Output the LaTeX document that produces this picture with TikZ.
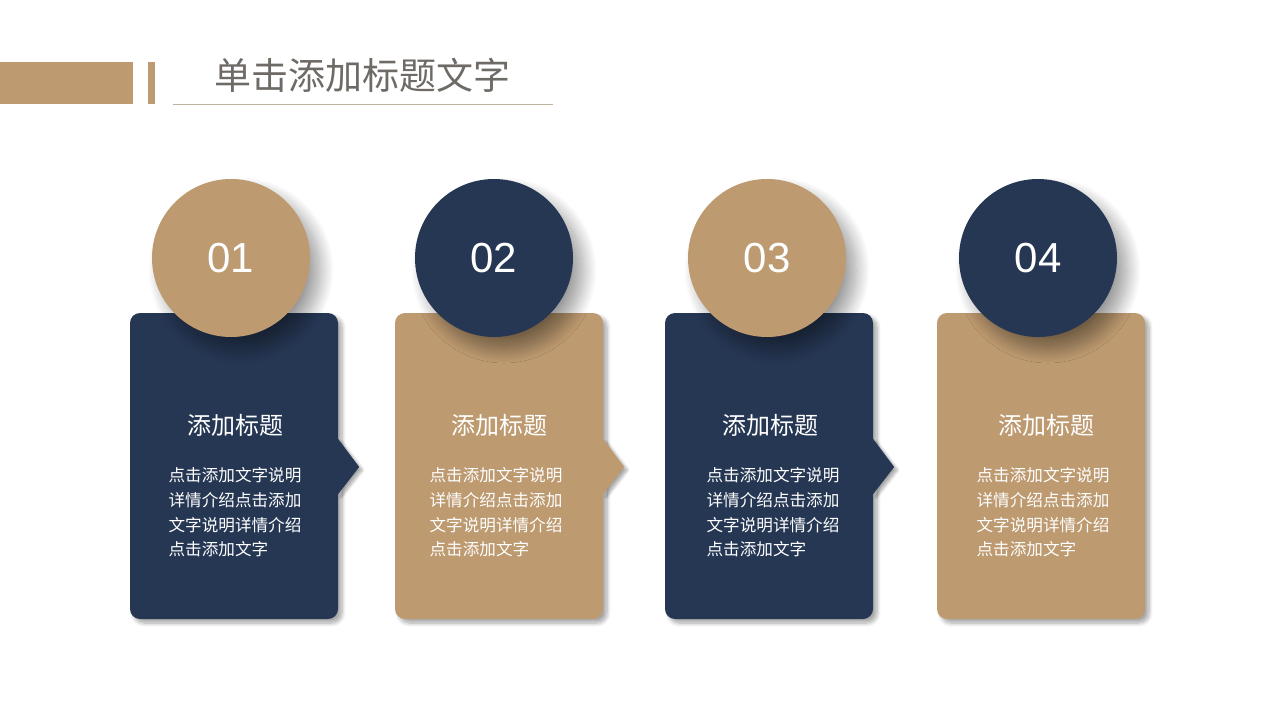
\documentclass[tikz,border=0pt]{standalone}
\usepackage{fontspec}
\setmainfont{Liberation Sans}
\newfontfamily\cjk{Noto Sans CJK SC}
\usetikzlibrary{positioning,shadows.blur}
\definecolor{tan}{HTML}{BD9A70}
\definecolor{navy}{HTML}{263754}
\definecolor{titlegray}{HTML}{6E6A66}
\definecolor{rulegray}{HTML}{BFB2A0}
\tikzstyle{card} = [rectangle, rounded corners=10pt, minimum width=208pt, minimum height=306pt, inner sep=0pt, blur shadow={shadow xshift=4pt, shadow yshift=-4pt, shadow blur radius=4pt, shadow blur steps=8, shadow opacity=35}]
\tikzstyle{badge} = [circle, minimum size=158pt, inner sep=0pt, text=white, font=\fontsize{42}{42}\selectfont, blur shadow={shadow xshift=10pt, shadow yshift=-12pt, shadow blur radius=14pt, shadow blur steps=20, shadow opacity=40}]
\tikzstyle{notch} = [blur shadow={shadow xshift=3pt, shadow yshift=-3pt, shadow blur radius=3pt, shadow blur steps=8, shadow opacity=35}]
\tikzstyle{head} = [text=white, font=\cjk\fontsize{24}{28}\selectfont]
\tikzstyle{body} = [text=white, align=left, inner sep=0pt, font=\cjk\fontsize{16.6}{24.7}\selectfont]

\begin{document}
\begin{tikzpicture}[x=1pt,y=-1pt,node distance=28pt]
  \useasboundingbox (0,0) rectangle (1280,720);
  % title bar
  \fill[tan] (0,62) rectangle (133,104);
  \fill[tan] (148,62) rectangle (155,104);
  \node[text=titlegray, font=\cjk\fontsize{37}{40}\selectfont] (title) at (362,75) {单击添加标题文字};
  \draw[rulegray, line width=1pt] (173,104) -- (553,104);

  \node[card, fill=navy] (card1) at (234,466) {};
  \node[card, fill=tan] (card2) at (499,466) {};
  \node[card, fill=navy] (card3) at (769,466) {};
  \node[card, fill=tan] (card4) at (1041,466) {};

  \fill[navy, notch] ([yshift=27pt]card1.east) -- ([xshift=21pt,yshift=-1pt]card1.east) -- ([yshift=-28pt]card1.east) -- cycle;
  \fill[tan, notch] ([yshift=27pt]card2.east) -- ([xshift=21pt,yshift=-1pt]card2.east) -- ([yshift=-28pt]card2.east) -- cycle;
  \fill[navy, notch] ([yshift=27pt]card3.east) -- ([xshift=21pt,yshift=-1pt]card3.east) -- ([yshift=-28pt]card3.east) -- cycle;

  \node[badge, fill=tan] (num1) at (231,258) {01};
  \node[badge, fill=navy] (num2) at (494,258) {02};
  \node[badge, fill=tan] (num3) at (767,258) {03};
  \node[badge, fill=navy] (num4) at (1038,258) {04};

  \node[head] (head1) at (235,425) {添加标题};
  \node[head] (head2) at (499,425) {添加标题};
  \node[head] (head3) at (770,425) {添加标题};
  \node[head] (head4) at (1046,425) {添加标题};

  \node[body] (text1) [below=of head1] {点击添加文字说明\\详情介绍点击添加\\文字说明详情介绍\\点击添加文字};
  \node[body] (text2) [below=of head2, xshift=-3pt] {点击添加文字说明\\详情介绍点击添加\\文字说明详情介绍\\点击添加文字};
  \node[body] (text3) [below=of head3, xshift=3pt] {点击添加文字说明\\详情介绍点击添加\\文字说明详情介绍\\点击添加文字};
  \node[body] (text4) [below=of head4, xshift=-3pt] {点击添加文字说明\\详情介绍点击添加\\文字说明详情介绍\\点击添加文字};
\end{tikzpicture}
\end{document}
